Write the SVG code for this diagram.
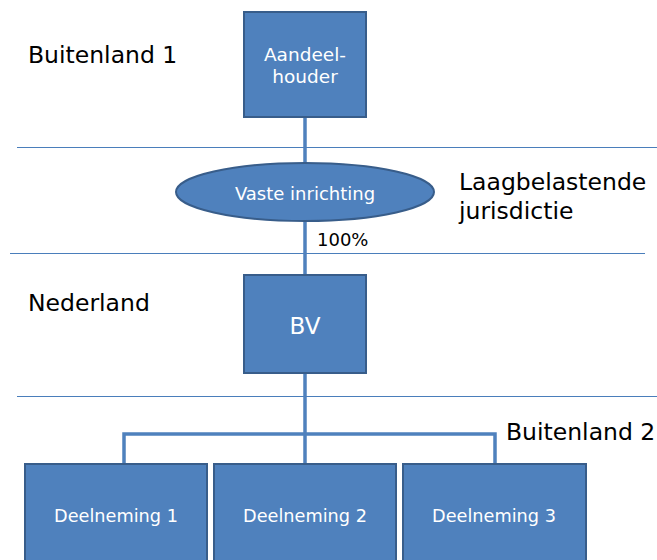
<svg xmlns="http://www.w3.org/2000/svg" width="657" height="560" viewBox="0 0 657 560">
<style>
.sep{stroke:#4a7ebb;stroke-width:1;fill:none}
.conn{stroke:#4f81bd;stroke-width:3.5;fill:none}
.box{fill:#4f81bd;stroke:#385d8a;stroke-width:2}
.lbl{font-family:"DejaVu Sans",Verdana,sans-serif;font-size:23.5px;fill:#000}
.wt{font-family:"DejaVu Sans",Verdana,sans-serif;fill:#fff;text-anchor:middle}
</style>
<rect width="657" height="560" fill="#fff"/>
<g id="separators">
<line class="sep" x1="17" y1="147.5" x2="657" y2="147.5"/>
<line class="sep" x1="10" y1="253.5" x2="645" y2="253.5"/>
<line class="sep" x1="17" y1="396.5" x2="657" y2="396.5"/>
</g>
<g id="connectors">
<line class="conn" x1="305" y1="118" x2="305" y2="275"/>
<line class="conn" x1="305" y1="373" x2="305" y2="463"/>
<polyline class="conn" points="124,463 124,434 495,434 495,463"/>
</g>
<g id="labels">
<text class="lbl" x="28" y="63">Buitenland 1</text>
<text class="lbl" x="459" y="190">Laagbelastende</text>
<text class="lbl" x="459" y="219">jurisdictie</text>
<text class="lbl" x="28" y="311">Nederland</text>
<text class="lbl" x="506" y="440">Buitenland 2</text>
<text x="317" y="246" font-family="DejaVu Sans,Verdana,sans-serif" font-size="18" fill="#000">100%</text>
</g>
<g id="aandeelhouder">
<rect class="box" x="244" y="12" width="122" height="105"/>
<text class="wt" x="305" y="61" font-size="18.5">Aandeel-</text>
<text class="wt" x="305" y="83" font-size="18.5">houder</text>
</g>
<g id="vaste-inrichting">
<ellipse class="box" cx="305" cy="192" rx="129" ry="29"/>
<text class="wt" x="305" y="200" font-size="18">Vaste inrichting</text>
</g>
<g id="bv">
<rect class="box" x="244" y="275" width="122" height="98"/>
<text class="wt" x="305" y="334" font-size="23" font-family="Liberation Sans,Arial,sans-serif">BV</text>
</g>
<g id="deelneming1">
<rect class="box" x="25" y="464" width="182" height="110"/>
<text class="wt" x="116" y="522" font-size="17.7">Deelneming 1</text>
</g>
<g id="deelneming2">
<rect class="box" x="214" y="464" width="182" height="110"/>
<text class="wt" x="305" y="522" font-size="17.7">Deelneming 2</text>
</g>
<g id="deelneming3">
<rect class="box" x="403" y="464" width="183" height="110"/>
<text class="wt" x="494" y="522" font-size="17.7">Deelneming 3</text>
</g>
</svg>
